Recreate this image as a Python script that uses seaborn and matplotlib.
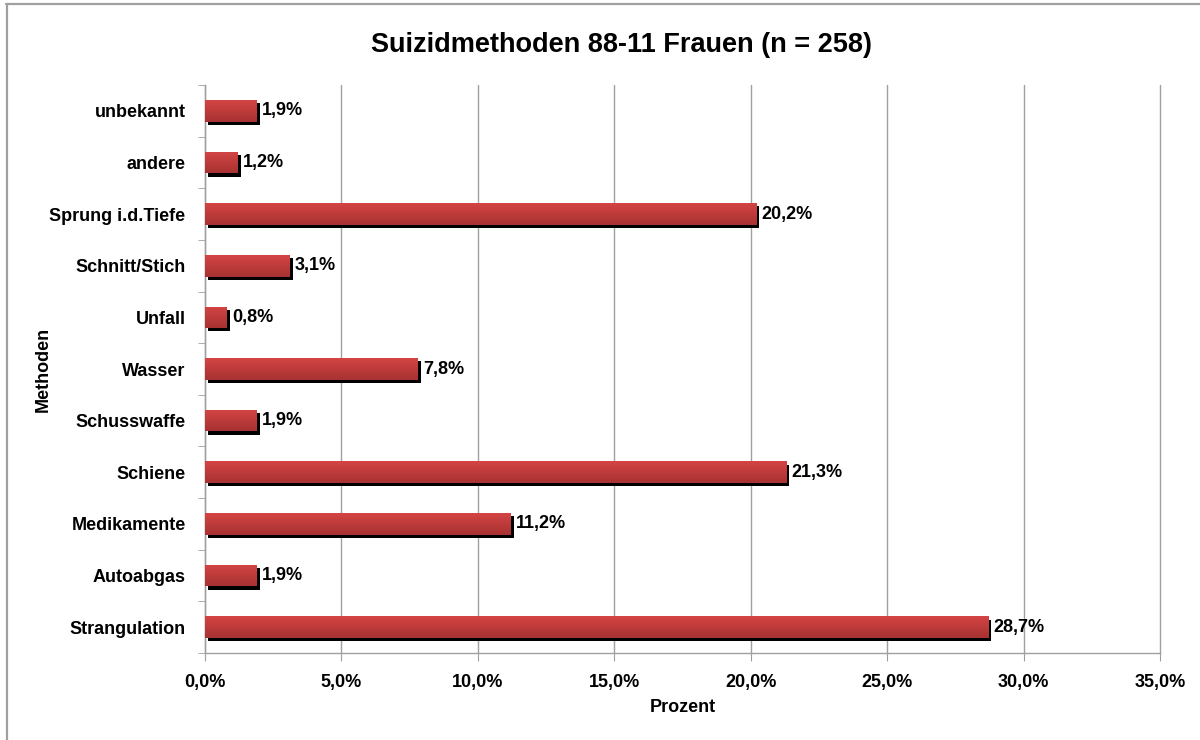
import numpy as np
import pandas as pd
import seaborn as sns
import matplotlib.pyplot as plt
import matplotlib.patheffects as pe
from matplotlib.lines import Line2D
from matplotlib.colors import LinearSegmentedColormap

methoden = ['unbekannt', 'andere', 'Sprung i.d.Tiefe', 'Schnitt/Stich', 'Unfall',
            'Wasser', 'Schusswaffe', 'Schiene', 'Medikamente', 'Autoabgas', 'Strangulation']
prozent = [1.9, 1.2, 20.2, 3.1, 0.8, 7.8, 1.9, 21.3, 11.2, 1.9, 28.7]
xticks = [0, 5, 10, 15, 20, 25, 30, 35]

df = pd.DataFrame({'Methode': methoden, 'Prozent': prozent})

sns.set_style('white')
plt.rcParams['font.family'] = ['Liberation Sans', 'DejaVu Sans']
plt.rcParams['font.weight'] = 'bold'
plt.rcParams['text.color'] = 'black'
plt.rcParams['xtick.color'] = 'black'
plt.rcParams['ytick.color'] = 'black'
plt.rcParams['axes.labelcolor'] = 'black'

fig = plt.figure(figsize=(12, 7.4), dpi=100)
ax = fig.add_axes([0.1708, 0.1176, 0.7959, 0.7675])

sns.barplot(data=df, x='Prozent', y='Methode', orient='h', color='#c83a3a',
            width=0.42, ax=ax, zorder=3, saturation=1)

# Verlauf + Schatten wie im Excel-Original
grad = LinearSegmentedColormap.from_list('rot', ['#d44444', '#a83232'])
for p in ax.patches:
    p.set_edgecolor('none')
    p.set_path_effects([pe.SimplePatchShadow(offset=(2.3, -2.3), shadow_rgbFace='black', alpha=1),
                        pe.Normal()])
    x0, y0 = p.get_x(), p.get_y()
    w, h = p.get_width(), p.get_height()
    im = ax.imshow(np.linspace(0, 1, 64).reshape(-1, 1), cmap=grad, aspect='auto',
                   extent=(x0, x0 + w, y0 + h, y0), zorder=4)
    im.set_clip_path(p)

ax.bar_label(ax.containers[0], labels=[f'{v:.1f}%'.replace('.', ',') for v in prozent],
             padding=4, fontsize=13, fontweight='bold', color='black', zorder=5)

ax.set_xlim(0, 35)
ax.set_ylim(len(methoden) - 0.5, -0.5)
ax.set_xticks(xticks)
ax.set_xticklabels([f'{t:.1f}%'.replace('.', ',') for t in xticks], fontsize=13, fontweight='bold')
ax.set_yticks(range(len(methoden)))
ax.set_yticklabels(methoden, fontsize=13, fontweight='bold')
ax.set_yticks(np.arange(-0.5, len(methoden), 1), minor=True)
ax.tick_params(axis='y', which='major', length=0, pad=14)
ax.tick_params(axis='y', which='minor', length=5, color='#a0a0a0', direction='out', left=True)
ax.tick_params(axis='x', length=6, color='#a0a0a0', direction='out', bottom=True, pad=9)

ax.grid(axis='x', color='#a0a0a0', lw=1, zorder=0)
for gl in ax.get_xgridlines():
    gl.set_clip_on(False)
ax.set_axisbelow(True)
for s in ['top', 'right']:
    ax.spines[s].set_visible(False)
for s in ['left', 'bottom']:
    ax.spines[s].set_color('#a0a0a0')
    ax.spines[s].set_linewidth(1)

ax.set_xlabel('Prozent', fontsize=13, fontweight='bold', labelpad=6)
ax.set_ylabel('Methoden', fontsize=13, fontweight='bold')
ax.yaxis.set_label_coords(-0.160, 0.5)

fig.text(0.518, 0.939, 'Suizidmethoden 88-11 Frauen (n = 258)', ha='center', va='center',
         fontsize=19.5, fontweight='bold')

fig.add_artist(Line2D([0.005, 1], [0.9945, 0.9945], color='#a0a0a0', lw=1.6))
fig.add_artist(Line2D([0.0055, 0.0055], [0, 0.9945], color='#a0a0a0', lw=1.6))

fig.savefig('out.png', dpi=100)
